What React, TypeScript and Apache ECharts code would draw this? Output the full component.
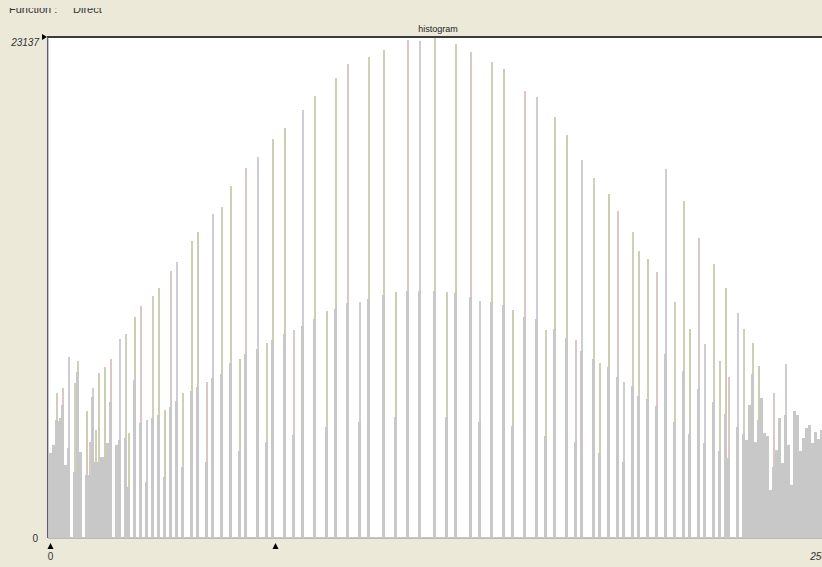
import React, { useEffect, useRef } from 'react';
import * as echarts from 'echarts';

// Histogram bins that hold counts (bin index 0..257)
const binIndex = [
  0, 1, 2, 3, 4, 5, 6, 8, 9, 10, 12, 13, 14, 15, 16, 17, 18, 19, 20, 22,
  23, 25, 26, 28, 30, 32, 34, 36, 38, 40, 42, 44, 47, 49, 52, 54, 57, 60, 63, 65,
  69, 72, 74, 78, 81, 84, 88, 92, 95, 99, 103, 106, 111, 115, 119, 123, 128, 132, 135, 140,
  143, 147, 151, 154, 158, 162, 165, 168, 172, 175, 177, 181, 183, 186, 189, 191, 194, 196, 199, 202,
  205, 208, 211, 213, 216, 218, 221, 223, 225, 226, 229, 231, 232, 233, 234, 235, 236, 237, 238, 239,
  240, 241, 242, 243, 244, 245, 246, 247, 248, 249, 250, 251, 252, 253, 254, 255, 256, 257,
];

// Counts of the coloured (upper) histogram, 0 where only the grey one is present
const upperCounts = [
  0, 0, 6700, 5540, 6930, 0, 8360, 7160, 8170, 0, 5870, 4430, 6930, 4990, 7620, 0, 7900, 0, 8270, 0,
  9190, 9420, 4850, 10210, 10710, 5450, 11180, 11550, 5910, 12330, 12750, 6700, 13720, 14130, 7200, 14960, 15290, 16260, 8270, 17090,
  17600, 9010, 18430, 18930, 9610, 19770, 20410, 10480, 21240, 21890, 10900, 22210, 22540, 11360, 23000, 22950, 23137, 11360, 22810, 22440,
  10950, 21980, 21660, 10530, 20640, 20370, 9610, 19440, 18610, 9140, 17460, 16630, 8080, 15890, 15100, 7200, 14130, 13250, 12880, 12280,
  17040, 10900, 15560, 9650, 13850, 8960, 12650, 8170, 11550, 7440, 10390, 9650, 0, 0, 9010, 0, 7940, 0, 0, 0,
  0, 6700, 0, 0, 0, 8040, 0, 0, 0, 0, 0, 0, 0, 0, 0, 0, 0, 0,
];

// Counts of the grey (lower) histogram
const lowerCounts = [
  3930, 4300, 5450, 5400, 6140, 3370, 4160, 3050, 7670, 3970, 2910, 2910, 6510, 3510, 3510, 3740, 3740, 4390, 6280, 4300,
  4530, 4620, 2360, 7300, 5310, 2590, 5540, 5680, 2820, 6050, 6330, 3280, 6790, 6970, 3510, 7390, 7570, 8080, 4020, 8500,
  8730, 4430, 9140, 9420, 4760, 9790, 10110, 5130, 10580, 10850, 5360, 11040, 11220, 5590, 11410, 11410, 11410, 5590, 11310, 11130,
  5360, 10900, 10760, 5170, 10210, 10110, 4710, 9650, 9240, 4430, 8640, 8270, 3930, 7900, 7440, 3510, 7020, 6560, 6420, 6100,
  8500, 5360, 7710, 4800, 6880, 4390, 6280, 4020, 5730, 3690, 5130, 4800, 4530, 6140, 7570, 4430, 5450, 6470, 4850, 4710,
  2220, 3280, 4060, 5540, 3460, 5680, 4300, 2450, 5870, 5680, 4020, 4620, 5080, 5220, 4390, 4900, 4570, 4990,
];

const xTickLabels = [0, 256];
const yTickLabels = [0, 23137];
const sliderMarkers = [0, 75];

const upperPalette = ['#cfcfb7', '#cdcdb4', '#dcc7c7', '#cdcdd5', '#d0d0b9'];
const FONT = 'Liberation Sans';

export default function App() {
  const ref = useRef<HTMLDivElement>(null);

  useEffect(() => {
    const el = ref.current!;
    const chart = echarts.init(el, null, { renderer: 'svg' });

    const lowerData = binIndex.map((b, k) => [b, lowerCounts[k]]);
    const upperData = binIndex
      .map((b, k) => [b, upperCounts[k]])
      .filter((d) => d[1] > 0);

    const yMax = yTickLabels[yTickLabels.length - 1];

    chart.setOption({
      animation: false,
      backgroundColor: '#ECE9D8',
      title: {
        text: 'histogram',
        left: 438,
        top: 24,
        textAlign: 'center',
        textVerticalAlign: 'top',
        padding: 0,
        textStyle: { fontSize: 9, fontWeight: 'normal', color: '#222', fontFamily: FONT },
      },
      grid: {
        left: 48,
        top: 37,
        width: 776,
        height: 501,
        outerBoundsMode: 'none',
        containLabel: false,
        show: true,
        backgroundColor: '#ffffff',
        borderColor: '#8c8c8c',
        borderWidth: 1,
      },
      xAxis: [
        {
          type: 'value',
          min: -5 / 6,
          max: -5 / 6 + 776 / 3,
          axisLine: { show: false },
          axisTick: { show: false },
          splitLine: { show: false },
          axisLabel: {
            customValues: xTickLabels,
            margin: 13,
            fontSize: 10,
            color: '#333',
            fontFamily: FONT,
            hideOverlap: false,
            formatter: (v: number) => (v === 0 ? '{n|0}' : '{i|' + v + '}'),
            rich: {
              n: { fontSize: 10, color: '#333', fontFamily: FONT },
              i: { fontSize: 10, color: '#333', fontFamily: FONT, fontStyle: 'italic' },
            },
          },
        },
        {
          type: 'value',
          min: -1,
          max: -1 + 776 / 3,
          show: false,
        },
      ],
      yAxis: {
        type: 'value',
        min: 0,
        max: yMax,
        axisLine: { show: false },
        axisTick: { show: false },
        splitLine: { show: false },
        axisLabel: {
          customValues: yTickLabels,
          margin: 9,
          fontSize: 10,
          color: '#333',
          fontFamily: FONT,
          formatter: (v: number) => (v === 0 ? '{n|0}' : '{t|' + v + '}'),
          rich: {
            n: { fontSize: 10, color: '#333', fontFamily: FONT, padding: [0, 1, 0, 0] },
            t: { fontSize: 10, color: '#333', fontFamily: FONT, fontStyle: 'italic', padding: [10, 0, 0, 0] },
          },
        },
      },
      series: [
        {
          type: 'bar',
          name: 'upper',
          xAxisIndex: 1,
          yAxisIndex: 0,
          data: upperData,
          barWidth: 2,
          z: 2,
          silent: true,
          itemStyle: {
            color: (p: any) => upperPalette[p.dataIndex % upperPalette.length],
          },
        },
        {
          type: 'bar',
          name: 'lower',
          xAxisIndex: 0,
          yAxisIndex: 0,
          data: lowerData,
          barWidth: 3,
          z: 3,
          silent: true,
          itemStyle: { color: '#c8c8c8' },
        },
      ],
    });

    const markerX = sliderMarkers.map((b) => chart.convertToPixel({ xAxisIndex: 0 }, b) as number);
    const yTopPx = chart.convertToPixel({ yAxisIndex: 0 }, yMax) as number;
    const yZeroPx = chart.convertToPixel({ yAxisIndex: 0 }, 0) as number;

    chart.setOption({
      graphic: [
        {
          type: 'text',
          left: 9,
          top: 3,
          z: 10,
          style: { text: 'Function :', fontSize: 11, fill: '#333', fontFamily: FONT },
        },
        {
          type: 'text',
          left: 73,
          top: 3,
          z: 10,
          style: { text: 'Direct', fontSize: 11, fill: '#333', fontFamily: FONT },
        },
        {
          type: 'rect',
          shape: { x: 0, y: 0, width: 822, height: 8 },
          z: 11,
          style: { fill: '#ECE9D8' },
        },
        {
          type: 'line',
          shape: { x1: 47, y1: yTopPx, x2: 822, y2: yTopPx },
          z: 12,
          style: { stroke: '#3c3c3c', lineWidth: 2 },
        },
        {
          type: 'line',
          shape: { x1: 47.5, y1: yTopPx, x2: 47.5, y2: yZeroPx },
          z: 12,
          style: { stroke: '#5c5c78', lineWidth: 1 },
        },
        {
          type: 'polygon',
          shape: { points: [[42, yTopPx - 3], [47, yTopPx], [42, yTopPx + 3]] },
          z: 12,
          style: { fill: '#000' },
        },
        ...markerX.map((x) => ({
          type: 'polygon',
          shape: { points: [[x - 3, yZeroPx + 11], [x + 3, yZeroPx + 11], [x, yZeroPx + 5]] },
          z: 12,
          style: { fill: '#000' },
        })),
      ],
    });

    return () => chart.dispose();
  }, []);

  return (
    <div
      ref={ref}
      style={{ position: 'fixed', left: 0, top: 0, width: 822, height: 567 }}
    />
  );
}
